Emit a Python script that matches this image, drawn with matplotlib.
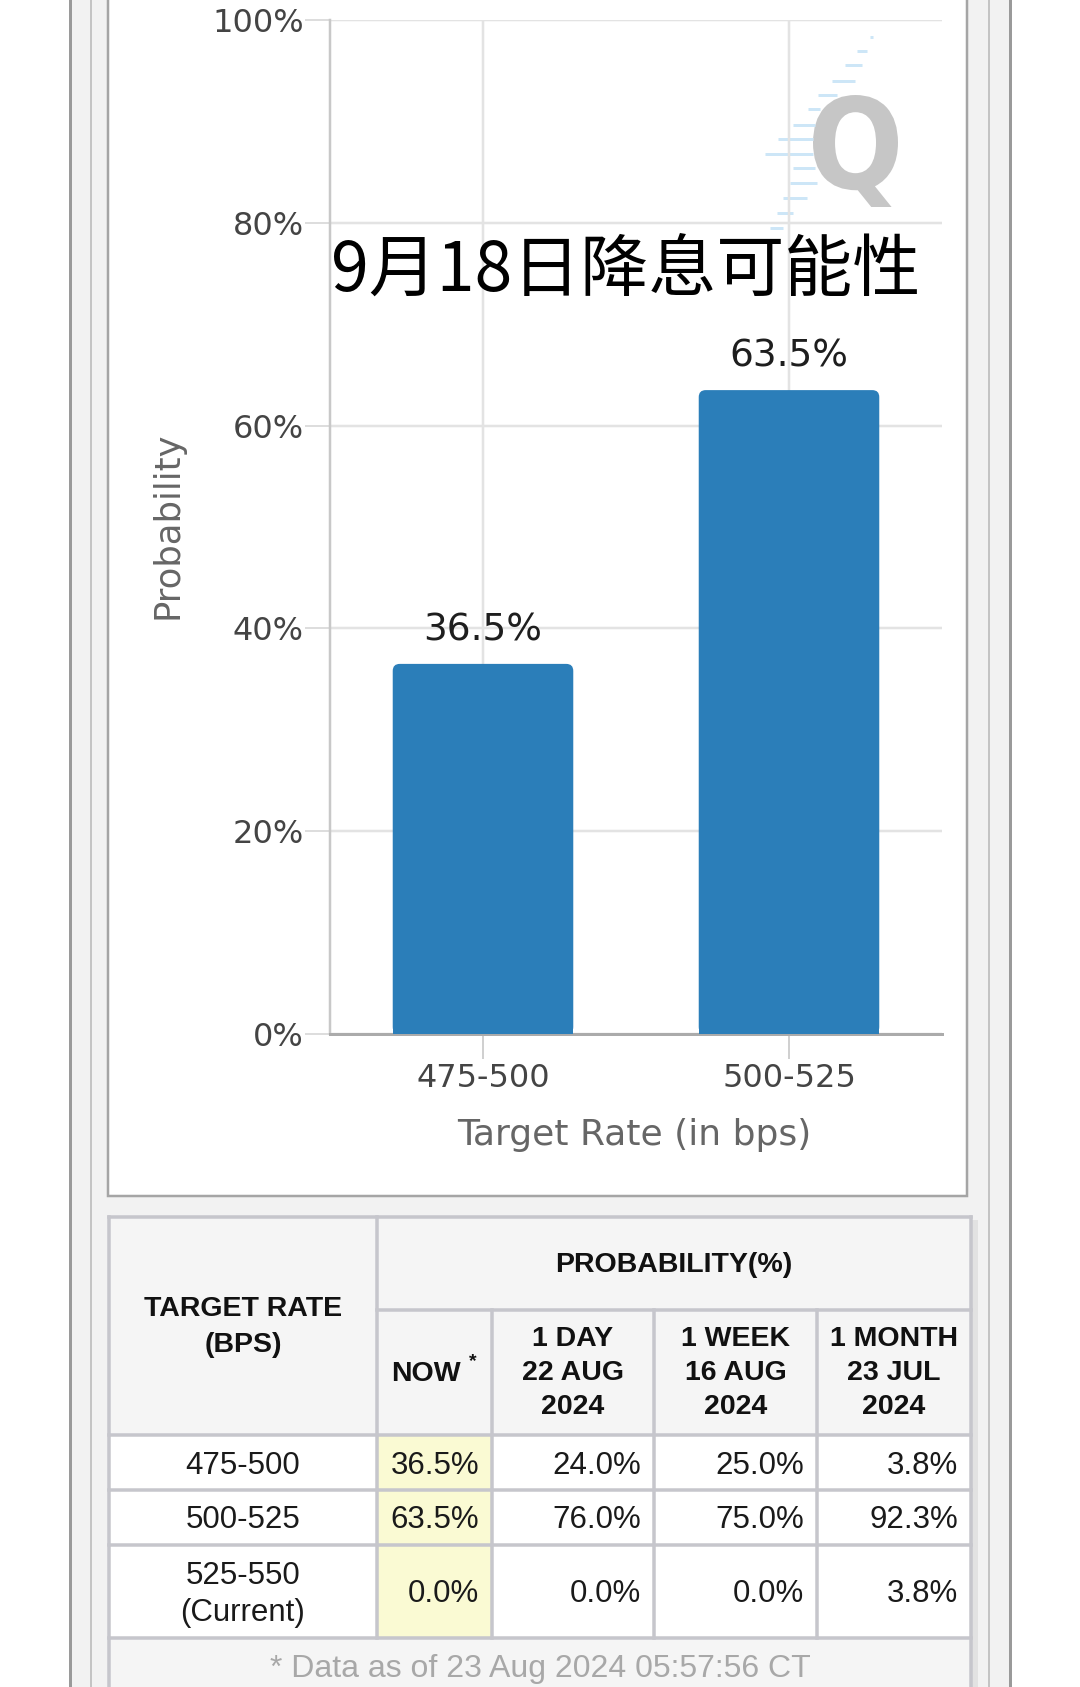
import matplotlib
matplotlib.use('Agg')
import matplotlib.pyplot as plt
from matplotlib.patches import Rectangle, FancyBboxPatch, PathPatch
from matplotlib.textpath import TextPath
from matplotlib.font_manager import FontProperties
from matplotlib.transforms import Affine2D

# ---------------- data ----------------
rates = ['475-500', '500-525']
now_probs = [36.5, 63.5]
y_ticks = [0, 20, 40, 60, 80, 100]
y_tick_labels = ['0%', '20%', '40%', '60%', '80%', '100%']

table_rates = ['475-500', '500-525', '525-550\n(Current)']
now_col = [36.5, 63.5, 0.0]
day_col = [24.0, 76.0, 0.0]
week_col = [25.0, 75.0, 0.0]
month_col = [3.8, 92.3, 3.8]
col_headers = ['1 DAY\n22 AUG\n2024', '1 WEEK\n16 AUG\n2024', '1 MONTH\n23 JUL\n2024']
footer = '* Data as of 23 Aug 2024 05:57:56 CT'
title = '9月18日降息可能性'

W, H = 1080, 1687
PT = 0.72  # px -> pt at dpi 100
fig = plt.figure(figsize=(W / 100, H / 100), dpi=100)
fig.patch.set_facecolor('white')

# background layer in pixel coords (y grows downward)
bg = fig.add_axes([0, 0, 1, 1], zorder=0)
bg.set_xlim(0, W)
bg.set_ylim(H, 0)
bg.axis('off')

# page frame
bg.add_patch(Rectangle((70, 0), 940, H, fc='#f2f2f2', ec='none'))
for xx, col, lw in [(70, '#9a9a9a', 3), (1010, '#9a9a9a', 3), (91, '#c4c4c4', 2), (989, '#c4c4c4', 2)]:
    bg.plot([xx, xx], [0, H], color=col, lw=lw * PT)
bg.add_patch(Rectangle((108, -10), 859, 1206, fc='white', ec='#a5a5a5', lw=2.5 * PT))

# watermark
dashes = [(870, 873, 37), (857, 867, 51), (845, 862, 65), (832, 855, 81), (818, 837, 95),
          (808, 820, 109), (793, 815, 125), (778, 813, 139), (765, 813, 154), (793, 815, 168),
          (790, 817, 183), (783, 807, 198), (777, 793, 213), (770, 783, 228)]
for x0, x1, yy in dashes:
    bg.plot([x0, x1], [yy, yy], color='#cde6f7', lw=3 * PT, solid_capstyle='butt')
tp = TextPath((0, 0), 'Q', size=1, prop=FontProperties(family='DejaVu Sans', weight='bold'))
ext = tp.get_extents()
tr = Affine2D().translate(-ext.x0, -ext.y0).scale(85 / ext.width, -112 / ext.height).translate(813, 207)
bg.add_patch(PathPatch(tr.transform_path(tp), fc='#c6c6c6', ec='none'))

# ---------------- chart ----------------
ax = fig.add_axes([330 / W, (H - 1034) / H, 612 / W, 1014 / H], zorder=2)
ax.set_facecolor('none')
x = list(range(len(rates)))
bar_w = 0.59
bars = ax.bar(x, now_probs, width=bar_w, color='#2b7eb9', zorder=3)
r = 7 * 2 / 612
aspect = (100 / 1014) / (2 / 612)
for rect in bars:
    fb = FancyBboxPatch((rect.get_x(), 0), rect.get_width(), rect.get_height(),
                        boxstyle=f'round,pad=0,rounding_size={r}', mutation_aspect=aspect,
                        fc='#2b7eb9', ec='none', zorder=3)
    ax.add_patch(fb)
    rect.set_height(rect.get_height() / 2)
    ax.text(rect.get_x() + rect.get_width() / 2, fb.get_height() + 1.5, f'{fb.get_height():.1f}%',
            ha='center', va='bottom', fontsize=27, color='#1e1e1e', family='DejaVu Sans')

ax.set_xlim(-0.5, 1.5)
ax.set_ylim(0, 100)
ax.set_xticks(x)
ax.set_xticklabels(rates)
ax.set_yticks(y_ticks)
ax.set_yticklabels(y_tick_labels)
ax.grid(True, color='#e3e3e3', lw=2.5 * PT, zorder=0)
ax.set_axisbelow(True)
for s in ['top', 'right']:
    ax.spines[s].set_visible(False)
ax.spines['left'].set_color('#c8c8c8')
ax.spines['left'].set_linewidth(2.5 * PT)
ax.spines['bottom'].set_color('#ababab')
ax.spines['bottom'].set_linewidth(3 * PT)
ax.tick_params(axis='y', length=25 * PT, width=2 * PT, color='#dddddd', pad=1,
               labelsize=23, labelcolor='#444444')
ax.tick_params(axis='x', length=25 * PT, width=2 * PT, color='#d0d0d0', pad=3,
               labelsize=23, labelcolor='#444444')
for lab in ax.get_xticklabels() + ax.get_yticklabels():
    lab.set_family('DejaVu Sans')
ax.set_ylabel('Probability', fontsize=25.5, color='#666666', family='DejaVu Sans', va='center')
ax.yaxis.set_label_coords((168 - 330) / 612, (1034 - 525) / 1014)
ax.set_xlabel('Target Rate (in bps)', fontsize=26, color='#666666', family='DejaVu Sans', va='center')
ax.xaxis.set_label_coords((634 - 330) / 612, (1034 - 1135) / 1014)

fig.text(626 / W, 1 - 272 / H, title, ha='center', va='center', fontsize=49, color='black',
         family=['Noto Sans CJK SC', 'DejaVu Sans'])

# ---------------- table ----------------
xs = [109, 377, 492, 654, 817, 971]
ys = [1217, 1310, 1435, 1490, 1545, 1638, 1700]
grid_c = '#c6c6cc'
grid_lw = 3.5 * PT
bg.add_patch(Rectangle((972, 1220), 6, 480, fc='#e2e2e2', ec='none'))
bg.add_patch(Rectangle((xs[0], ys[0]), xs[-1] - xs[0], ys[2] - ys[0], fc='#f5f5f5', ec='none'))
bg.add_patch(Rectangle((xs[0], ys[2]), xs[-1] - xs[0], ys[5] - ys[2], fc='white', ec='none'))
bg.add_patch(Rectangle((xs[1], ys[2]), xs[2] - xs[1], ys[5] - ys[2], fc='#fafad3', ec='none'))
bg.add_patch(Rectangle((xs[0], ys[5]), xs[-1] - xs[0], ys[6] - ys[5], fc='#f5f5f5', ec='none'))

bg.plot([xs[0], xs[-1]], [ys[0], ys[0]], color=grid_c, lw=grid_lw)
bg.plot([xs[1], xs[-1]], [ys[1], ys[1]], color=grid_c, lw=grid_lw)
for yy in ys[2:6]:
    bg.plot([xs[0], xs[-1]], [yy, yy], color=grid_c, lw=grid_lw)
for xx in [xs[0], xs[-1]]:
    bg.plot([xx, xx], [ys[0], ys[6]], color=grid_c, lw=grid_lw)
bg.plot([xs[1], xs[1]], [ys[0], ys[5]], color=grid_c, lw=grid_lw)
for xx in xs[2:5]:
    bg.plot([xx, xx], [ys[1], ys[5]], color=grid_c, lw=grid_lw)

hfont = dict(family=['Liberation Sans', 'DejaVu Sans'], weight='bold', fontsize=20.5, color='#111111')
dfont = dict(family=['Liberation Sans', 'DejaVu Sans'], fontsize=22.5, color='#1a1a1a')

c0 = (xs[0] + xs[1]) / 2
bg.text(c0, 1309, 'TARGET RATE', ha='center', va='center', **hfont)
bg.text(c0, 1345, '(BPS)', ha='center', va='center', **hfont)
bg.text((xs[1] + xs[-1]) / 2, (ys[0] + ys[1]) / 2 + 1, 'PROBABILITY(%)', ha='center', va='center', **hfont)
bg.text(426, 1374, 'NOW', ha='center', va='center', **hfont)
bg.text(473, 1362, '*', ha='center', va='center', family='Liberation Sans', weight='bold',
        fontsize=14, color='#111111')
line_gap = 34
for i, head in enumerate(col_headers):
    cx = (xs[i + 2] + xs[i + 3]) / 2
    for j, line in enumerate(head.split('\n')):
        bg.text(cx, 1339 + j * line_gap, line, ha='center', va='center', **hfont)

columns = [now_col, day_col, week_col, month_col]
for r_i, rate in enumerate(table_rates):
    cy = (ys[r_i + 2] + ys[r_i + 3]) / 2 + 3
    parts = rate.split('\n')
    for j, line in enumerate(parts):
        bg.text(c0, cy + (j - (len(parts) - 1) / 2) * 38, line, ha='center', va='center', **dfont)
    for c_i, col in enumerate(columns):
        bg.text(xs[c_i + 2] - 13, cy, f'{col[r_i]:.1f}%', ha='right', va='center', **dfont)

bg.text((xs[0] + xs[-1]) / 2, 1669, footer, ha='center', va='center',
        family=['Liberation Sans', 'DejaVu Sans'], fontsize=23, color='#a8a8a8')

fig.savefig('out.png', dpi=100)
